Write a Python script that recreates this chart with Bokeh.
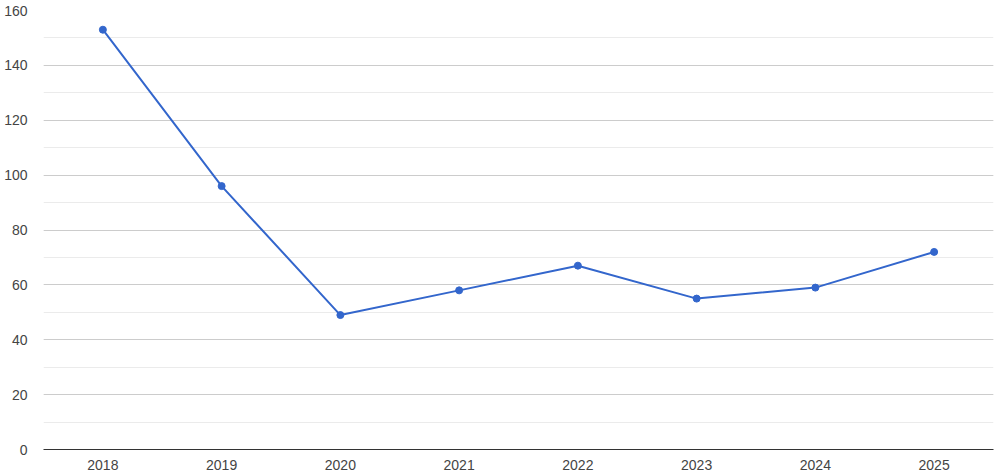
from bokeh.plotting import figure
from bokeh.models import Range1d, FactorRange, SingleIntervalTicker, ColumnDataSource
from bokeh.embed import file_html
from bokeh.resources import INLINE

years = ["2018", "2019", "2020", "2021", "2022", "2023", "2024", "2025"]
values = [153, 96, 49, 58, 67, 55, 59, 72]

src = ColumnDataSource(data=dict(year=years, value=values))

p = figure(
    width=998, height=475,
    x_range=FactorRange(factors=years, range_padding=0),
    y_range=Range1d(0, 160),
    output_backend="svg", toolbar_location=None,
    min_border_left=43, min_border_right=5, min_border_top=10, min_border_bottom=26,
)
p.outline_line_color = None
p.background_fill_color = "white"
p.border_fill_color = "white"

p.xgrid.grid_line_color = None
p.yaxis.ticker = SingleIntervalTicker(interval=20, num_minor_ticks=2)
p.ygrid.grid_line_color = "#CCCCCC"
p.ygrid.minor_grid_line_color = "#EBEBEB"

for ax in (p.xaxis, p.yaxis):
    ax.major_tick_line_color = None
    ax.minor_tick_line_color = None
    ax.major_tick_out = 0
    ax.major_tick_in = 0
    ax.minor_tick_out = 0
    ax.minor_tick_in = 0
    ax.major_label_text_font = "Liberation Sans"
    ax.major_label_text_font_size = "14px"
    ax.major_label_text_color = "#444444"
p.yaxis.axis_line_color = None
p.yaxis.major_label_standoff = 16
p.xaxis.axis_line_color = "#333333"
p.xaxis.axis_line_width = 1
p.xaxis.major_label_standoff = 10

p.line("year", "value", source=src, line_color="#3366CC", line_width=2)
p.scatter("year", "value", source=src, size=7, fill_color="#3366CC", line_color="#3366CC")

open("out.html", "w").write(file_html(p, INLINE))
